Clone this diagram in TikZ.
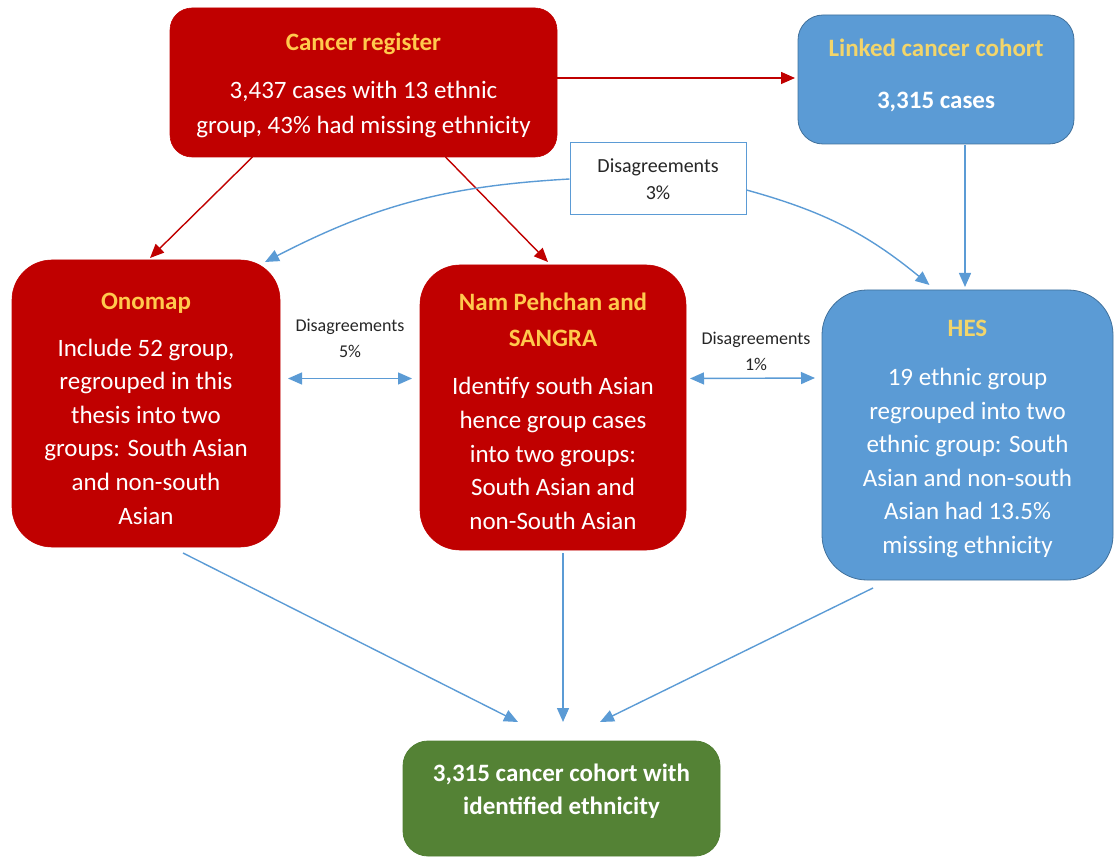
\documentclass[tikz,border=0pt]{standalone}
\usepackage{fontspec}
\setmainfont{Carlito}
\usetikzlibrary{arrows.meta,calc}
\definecolor{boxred}{HTML}{C00000}
\definecolor{boxblue}{HTML}{5B9BD5}
\definecolor{blueedge}{HTML}{41719C}
\definecolor{boxgreen}{HTML}{548235}
\definecolor{greenedge}{HTML}{507E32}
\definecolor{ttlc}{HTML}{FFC94D}
\definecolor{ttlb}{HTML}{F2D56B}
\definecolor{arrblue}{HTML}{5B9BD5}
\newcommand\boxtitle[1]{{\bfseries\color{ttlc}#1}}
\newcommand\boxtitleb[1]{{\bfseries\color{ttlb}#1}}
\tikzset{
  basebox/.style={rectangle, inner sep=0pt, outer sep=0pt},
  redbox/.style={basebox, fill=boxred, draw=boxred, line width=0.6pt},
  bluebox/.style={basebox, fill=boxblue, draw=blueedge, line width=0.8pt},
  greenbox/.style={basebox, fill=boxgreen, draw=greenedge, line width=0.8pt},
  boxtext/.style={align=center, text=white, inner sep=0pt, font=\fontsize{25}{33.6}\selectfont},
  labelbox/.style={rectangle, align=center, fill=white, draw=arrblue, line width=1pt,
    font=\fontsize{20}{27}\selectfont, text=black!85},
  lbl/.style={align=center, font=\fontsize{18}{26}\selectfont, text=black!85},
  tip/.style={-{Triangle[length=14pt,width=12pt]}},
  redarr/.style={draw=boxred, line width=1.4pt, tip},
  bluearr/.style={draw=arrblue, line width=1.4pt, tip},
  dblarr/.style={draw=arrblue, line width=1.4pt, {Triangle[length=14pt,width=12pt]}-{Triangle[length=14pt,width=12pt]}}
}
\begin{document}
\begin{tikzpicture}[x=1pt,y=1pt]
\useasboundingbox (0,0) rectangle (1116,-858);
% boxes
\node[redbox, minimum width=387pt, minimum height=149pt, rounded corners=22pt] (cr) at (363.5,-82.5) {};
\node[boxtext, font=\fontsize{25}{35}\selectfont] (crt) at ($(cr)+(0,-3)$)
  {\boxtitle{Cancer register}\\[13pt] 3,437 cases with 13 ethnic\\ group, 43\% had missing ethnicity};
\node[bluebox, minimum width=276pt, minimum height=129pt, rounded corners=25pt] (lk) at (936,-79.5) {};
\node[boxtext] (lkt) at ($(lk)+(0,4.5)$)
  {\boxtitleb{Linked cancer cohort}\\[18.4pt] \bfseries 3,315 cases};
\node[redbox, minimum width=268pt, minimum height=287pt, rounded corners=40pt] (on) at (146,-403.5) {};
\node[boxtext] (ont) at ($(on)+(0,-5)$)
  {\boxtitle{Onomap}\\[13.4pt] Include 52 group,\\ regrouped in this\\ thesis into two\\ groups: South Asian\\ and non-south\\ Asian};
\node[redbox, minimum width=266pt, minimum height=285pt, rounded corners=40pt] (np) at (553,-407.5) {};
\node[boxtext] (npt) at ($(np)+(0,-4)$)
  {\boxtitle{Nam Pehchan and}\\[2.4pt] \boxtitle{SANGRA}\\[14.4pt] Identify south Asian\\ hence group cases\\ into two groups:\\ South Asian and\\ non-South Asian};
\node[bluebox, minimum width=291pt, minimum height=290pt, rounded corners=45pt] (hes) at (967.5,-435) {};
\node[boxtext] (hest) at ($(hes)+(0,-4)$)
  {\boxtitleb{HES}\\[15.4pt] 19 ethnic group\\ regrouped into two\\ ethnic group: South\\ Asian and non-south\\ Asian had 13.5\%\\ missing ethnicity};
\node[greenbox, minimum width=317pt, minimum height=115pt, rounded corners=25pt] (gr) at (561.5,-798.5) {};
\node[boxtext, font=\bfseries\fontsize{25}{33}\selectfont] (grt) at ($(gr)+(0,7)$)
  {3,315 cancer cohort with\\ identified ethnicity};
\node[labelbox, minimum width=176pt, minimum height=72pt, inner sep=0pt] (dis) at (658,-179)
  {Disagreements\\ 3\%};
\node[lbl] (d5) at (350,-338) {Disagreements\\ 5\%};
\node[lbl] (d1) at (756,-351) {Disagreements\\ 1\%};
% helper coordinates
\coordinate (crout) at ($(cr.east)+(0,4.5)$);
\coordinate (lkout) at ($(lk.south)+(29,-1)$);
% red connectors
\draw[redarr, shorten >=3pt] (crout) -- (crout -| lk.west);
\draw[redarr] ($(cr.south)+(-111,0)$) -- ($(on.north)+(4,2)$);
\draw[redarr] ($(cr.south)+(82,0)$) -- ($(np.north)+(-5,3)$);
% blue connectors
\draw[bluearr, shorten >=3pt] (lkout) -- (lkout |- hes.north);
\draw[bluearr] (dis.west) to[bend right=12] ($(on.north east)+(-15,-2)$);
\draw[bluearr] ($(dis.east)+(0,-11)$) to[bend left=12] ($(hes.north)+(-38,5)$);
\draw[dblarr] ($(on.east)+(8,25)$) -- ($(np.west)+(-8,29)$);
\draw[dblarr] ($(np.east)+(4,29)$) -- ($(hes.west)+(-7,57)$);
\draw[bluearr] ($(on.south)+(37,-6)$) -- ($(gr.north)+(-43.5,19)$);
\draw[bluearr] ($(np.south)+(10,-3)$) -- ($(gr.north)+(1.5,19)$);
\draw[bluearr] ($(hes.south)+(-94.5,-8)$) -- ($(gr.north)+(38.5,19)$);
\end{tikzpicture}
\end{document}
